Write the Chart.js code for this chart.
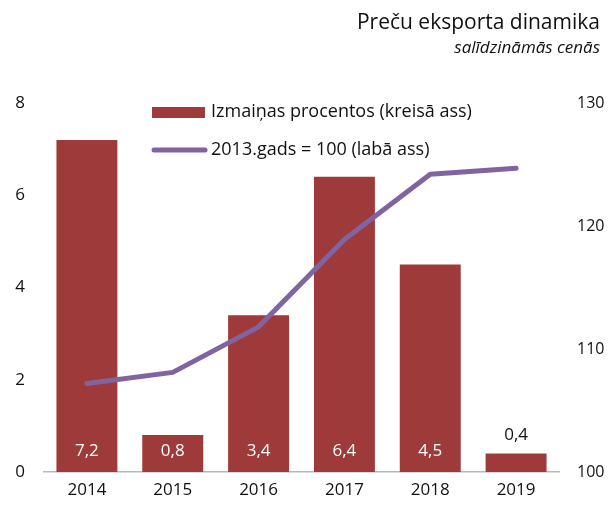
<!DOCTYPE html>
<html><head><meta charset="utf-8">
<script src="https://cdn.jsdelivr.net/npm/chart.js@4/dist/chart.umd.min.js"></script>
<style>
html,body{margin:0;padding:0;background:#fff;}
#wrap{position:relative;width:610px;height:511px;}
#title{position:absolute;right:10px;top:8px;text-align:right;font-family:"Open Sans",sans-serif;color:#111;}
#title .t1{font-size:21px;line-height:27px;}
#title .t2{font-size:17px;font-style:italic;line-height:24px;}
canvas{position:absolute;left:0;top:0;}
</style></head>
<body>
<div id="wrap">
<canvas id="c" width="610" height="511"></canvas>
<div id="title"><div class="t1">Preču eksporta dinamika</div><div class="t2">salīdzināmās cenās</div></div>
</div>
<script>
const categories = ["2014","2015","2016","2017","2018","2019"];
const changePct = [7.2, 0.8, 3.4, 6.4, 4.5, 0.4];
const index2013 = [107.2, 108.1, 111.8, 118.9, 124.2, 124.7];
const barLabel = "Izmaiņas procentos (kreisā ass)";
const lineLabel = "2013.gads = 100 (labā ass)";
const leftTicks = [0, 2, 4, 6, 8];
const rightTicks = [100, 110, 120, 130];

const FONT = "'Open Sans', sans-serif";
const BAR = "#9E3A39";
const LINE = "#8064A2";

const labelPlugin = {
  id: "labels",
  afterDatasetsDraw(chart) {
    const ctx = chart.ctx;
    const meta = chart.getDatasetMeta(0);
    const yS = chart.scales.y;
    ctx.save();
    ctx.font = "17px " + FONT;
    ctx.textAlign = "center";
    ctx.textBaseline = "middle";
    meta.data.forEach((bar, i) => {
      const v = changePct[i];
      const txt = v.toFixed(1).replace(".", ",");
      const base = yS.getPixelForValue(0);
      const top = bar.y;
      if (base - top > 30) {
        ctx.fillStyle = "#fff";
        ctx.fillText(txt, bar.x, base - 21);
      } else {
        ctx.fillStyle = "#111";
        ctx.fillText(txt, bar.x, top - 18);
      }
    });
    // legend
    ctx.textAlign = "left";
    ctx.font = "18px " + FONT;
    ctx.fillStyle = BAR;
    ctx.fillRect(152, 107, 53, 11);
    ctx.fillStyle = "#111";
    ctx.fillText(barLabel, 211, 112);
    ctx.strokeStyle = LINE;
    ctx.lineWidth = 5;
    ctx.lineCap = "round";
    ctx.beginPath(); ctx.moveTo(154, 150); ctx.lineTo(205, 150); ctx.stroke();
    ctx.fillText(lineLabel, 211, 150);
    ctx.restore();
  }
};

new Chart(document.getElementById("c"), {
  data: {
    labels: categories,
    datasets: [
      { type: "bar", label: barLabel, data: changePct, backgroundColor: BAR, yAxisID: "y",
        barPercentage: 0.71, categoryPercentage: 1, order: 1 },
      { type: "line", label: lineLabel, data: index2013, borderColor: LINE, borderWidth: 5,
        pointRadius: 0, tension: 0, yAxisID: "y2", order: 0, borderCapStyle: "round", borderJoinStyle: "round" }
    ]
  },
  options: {
    responsive: false, animation: false, devicePixelRatio: 1,
    layout: { padding: { top: 103, bottom: 0, left: 0, right: 0 } },
    plugins: { legend: { display: false }, tooltip: { enabled: false } },
    scales: {
      x: {
        grid: { display: false, drawTicks: false },
        border: { display: true, color: "#b8b8b8", width: 1.5 },
        ticks: { color: "#111", font: { family: FONT, size: 17 }, padding: 8 },
        afterFit(s) { s.height = 39; }
      },
      y: {
        position: "left", min: 0, max: 8,
        grid: { display: false, drawTicks: false }, border: { display: false },
        afterBuildTicks(s) { s.ticks = leftTicks.map(v => ({ value: v })); },
        ticks: { color: "#111", font: { family: FONT, size: 17 }, padding: 19 },
        afterFit(s) { s.width = 44; }
      },
      y2: {
        position: "right", min: 100, max: 130,
        grid: { display: false, drawTicks: false }, border: { display: false },
        afterBuildTicks(s) { s.ticks = rightTicks.map(v => ({ value: v })); },
        ticks: { color: "#111", font: { family: FONT, size: 16 }, padding: 18 },
        afterFit(s) { s.width = 51; }
      }
    }
  },
  plugins: [labelPlugin]
});
</script>
</body></html>
